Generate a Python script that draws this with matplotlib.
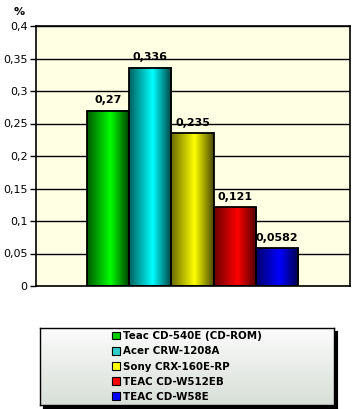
import numpy as np
import matplotlib.pyplot as plt
from matplotlib.colors import LinearSegmentedColormap
from matplotlib.patches import Patch, Rectangle

drives = ['Teac CD-540E (CD-ROM)', 'Acer CRW-1208A', 'Sony CRX-160E-RP',
          'TEAC CD-W512EB', 'TEAC CD-W58E']
values = [0.27, 0.336, 0.235, 0.121, 0.0582]
labels = ['0,27', '0,336', '0,235', '0,121', '0,0582']
# dark edge, bright middle, darker edge
shades = [('#005a00', '#00ff00', '#003a00'),
          ('#006060', '#00ffff', '#004040'),
          ('#6a6a00', '#ffff00', '#4a4a00'),
          ('#6a0000', '#ff0000', '#4a0000'),
          ('#00006a', '#0000ff', '#00004a')]
flat = ['#00cc00', '#33cccc', '#ffff00', '#ff0000', '#0000ff']
yticks = [0, 0.05, 0.1, 0.15, 0.2, 0.25, 0.3, 0.35, 0.4]
ytick_labels = ['0', '0,05', '0,1', '0,15', '0,2', '0,25', '0,3', '0,35', '0,4']

plt.rcParams['font.family'] = 'DejaVu Sans'
fig = plt.figure(figsize=(3.56, 4.09), dpi=100)
fig.patch.set_facecolor('white')

ax = fig.add_axes([36/356, 123/409, 314/356, 260/409])
ax.set_facecolor('#ffffe3')
ax.set_yticks(yticks)
ax.set_yticklabels(ytick_labels, fontsize=8)
ax.set_xticks([])
ax.tick_params(axis='y', length=4, width=1, pad=2, direction='out')
ax.yaxis.grid(True, color='black', lw=1)
ax.set_axisbelow(True)
for s in ax.spines.values():
    s.set_linewidth(1.2)

x = np.arange(len(values))
w = 1.0
for i, v in enumerate(values):
    cmap = LinearSegmentedColormap.from_list('c%d' % i,
                                             [(0, shades[i][0]), (0.55, shades[i][1]), (1, shades[i][2])])
    g = np.linspace(0, 1, 100)[None, :]
    ax.imshow(g, cmap=cmap, extent=(x[i] - w/2, x[i] + w/2, 0, v),
              aspect='auto', zorder=2, interpolation='bilinear')
    ax.add_patch(Rectangle((x[i] - w/2, 0), w, v, fill=False,
                           edgecolor='black', lw=1.3, zorder=3))
    ax.annotate(labels[i], (x[i], v), xytext=(0, 4), textcoords='offset points',
                ha='center', va='bottom', fontsize=8, fontweight='bold')
ax.set_xlim(-1.71, 5.73)
ax.set_ylim(0, 0.4)

fig.text(19/356, 1 - 12/409, '%', ha='center', va='center',
         fontsize=8, fontweight='bold')

# legend box with shadow and soft gradient
sax = fig.add_axes([43/356, 1 - 408/409, 294/356, 77/409])
sax.set_facecolor('black')
sax.set_xticks([])
sax.set_yticks([])
sax.set_zorder(1)

lax = fig.add_axes([40/356, 1 - 405/409, 294/356, 77/409])
lax.set_zorder(2)
lax.imshow(np.linspace(0, 1, 50)[:, None],
           cmap=LinearSegmentedColormap.from_list('lg', ['#d8dfd8', '#fbfbfb']),
           extent=(0, 1, 0, 1), aspect='auto', origin='lower')
lax.set_xlim(0, 1)
lax.set_ylim(0, 1)
lax.set_xticks([])
lax.set_yticks([])
for s in lax.spines.values():
    s.set_linewidth(1)
handles = [Patch(facecolor=c, edgecolor='black', lw=0.8) for c in flat]
leg = lax.legend(handles, drives, loc='center', frameon=False, fontsize=7.4,
                 handlelength=0.75, handleheight=0.75, handletextpad=0.3,
                 labelspacing=0.5, borderpad=0)
for t in leg.get_texts():
    t.set_fontweight('bold')

fig.savefig('out.png', dpi=100)
